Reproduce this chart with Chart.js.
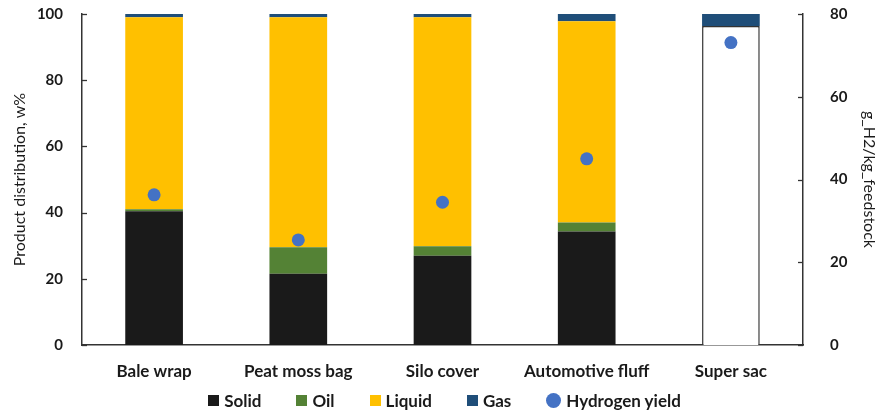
<!DOCTYPE html>
<html>
<head>
<meta charset="utf-8">
<script src="https://cdn.jsdelivr.net/npm/chart.js@4.4.1/dist/chart.umd.min.js"></script>
<style>
  html, body { margin: 0; padding: 0; background: #fff; }
  #wrap { position: relative; width: 879px; height: 412px; }
  canvas { display: block; }
  #legend {
    position: absolute; left: 5px; top: 389px; width: 879px; height: 22px;
    display: flex; justify-content: center; align-items: center; gap: 35px;
    font: bold 17px Lato, sans-serif; color: #1a1a1a;
  }
  .item { display: flex; align-items: center; gap: 5px; white-space: nowrap; }
  .sw { width: 11px; height: 11px; }
  .dot { width: 15px; height: 15px; border-radius: 50%; }
</style>
</head>
<body>
<div id="wrap">
  <canvas id="c" width="879" height="412"></canvas>
  <div id="legend"></div>
</div>
<script>
// Feedstock categories
const categories = ['Bale wrap', 'Peat moss bag', 'Silo cover', 'Automotive fluff', 'Super sac'];

// Product distribution, w%
const solid  = [40.4, 21.5, 27.0, 34.3, 96.4];
const oil    = [0.6, 8.0, 2.8, 2.7, 0];
const liquid = [58.0, 69.5, 69.2, 60.8, 0];
const gas    = [1.0, 1.0, 1.0, 2.2, 3.6];

// Hydrogen yield, g H2 per kg feedstock
const hydrogenYield = [36.3, 25.4, 34.5, 45.0, 73.1];

// Axis tick values
const leftTicks  = [0, 20, 40, 60, 80, 100];
const rightTicks = [0, 20, 40, 60, 80];

const FONT = 'Lato, sans-serif';
const AXIS = '#333333';
const COLORS = { solid: '#1a1a1a', oil: '#548235', liquid: '#ffc000', gas: '#1f4e79', h2: '#4472c4' };

// Tick marks pointing into the plot area
const innerTicks = {
  id: 'innerTicks',
  afterDraw(chart) {
    const { ctx, chartArea } = chart;
    ctx.save();
    ctx.strokeStyle = AXIS;
    ctx.lineWidth = 1.3;
    const y = chart.scales.y, y1 = chart.scales.y1;
    y.ticks.forEach(t => {
      const py = Math.round(y.getPixelForValue(t.value)) + 0.5;
      ctx.beginPath(); ctx.moveTo(chartArea.left, py); ctx.lineTo(chartArea.left + 5, py); ctx.stroke();
    });
    y1.ticks.forEach(t => {
      const py = Math.round(y1.getPixelForValue(t.value)) + 0.5;
      ctx.beginPath(); ctx.moveTo(chartArea.right - 5, py); ctx.lineTo(chartArea.right, py); ctx.stroke();
    });
    ctx.restore();
  }
};

const barDefaults = { stack: 'p', yAxisID: 'y', order: 2, barPercentage: 0.4, categoryPercentage: 1, borderWidth: 0 };

const chart = new Chart(document.getElementById('c'), {
  type: 'bar',
  data: {
    labels: categories,
    datasets: [
      Object.assign({}, barDefaults, {
        label: 'Solid', data: solid,
        backgroundColor: c => c.dataIndex === 4 ? '#ffffff' : COLORS.solid,
        borderColor: AXIS,
        borderWidth: c => c.dataIndex === 4 ? 1.5 : 0,
        borderSkipped: 'bottom'
      }),
      Object.assign({}, barDefaults, { label: 'Oil', data: oil, backgroundColor: COLORS.oil }),
      Object.assign({}, barDefaults, { label: 'Liquid', data: liquid, backgroundColor: COLORS.liquid }),
      Object.assign({}, barDefaults, { label: 'Gas', data: gas, backgroundColor: COLORS.gas }),
      {
        type: 'line', label: 'Hydrogen yield', data: hydrogenYield, yAxisID: 'y1', order: 0,
        showLine: false, pointRadius: 6.5, pointHoverRadius: 6.5, pointBorderWidth: 0,
        pointBackgroundColor: COLORS.h2, backgroundColor: COLORS.h2, borderColor: COLORS.h2
      }
    ]
  },
  options: {
    responsive: false,
    animation: false,
    devicePixelRatio: 1,
    layout: { padding: { top: 14, left: 0, right: 0, bottom: 23 } },
    plugins: { legend: { display: false }, tooltip: { enabled: false } },
    scales: {
      x: {
        grid: { display: false, drawTicks: false },
        border: { display: true, color: AXIS, width: 1.5 },
        ticks: { color: '#1a1a1a', font: { family: FONT, size: 17, weight: 'bold' }, padding: 16, maxRotation: 0, autoSkip: false },
        afterFit: s => { s.height = 44; }
      },
      y: {
        position: 'left', min: 0, max: 100,
        grid: { display: false, drawTicks: false },
        border: { display: true, color: AXIS, width: 1.5 },
        afterBuildTicks: s => { s.ticks = leftTicks.map(v => ({ value: v })); },
        ticks: { color: '#1a1a1a', font: { family: FONT, size: 15, weight: 'bold' }, padding: 19 },
        title: { display: true, text: 'Product distribution, w%', color: '#1a1a1a', font: { family: FONT, size: 16 }, padding: { top: 10, bottom: 0 } },
        afterFit: s => { s.width = 82; s.paddingTop = 0; s.paddingBottom = 0; }
      },
      y1: {
        position: 'right', min: 0, max: 80,
        grid: { display: false, drawTicks: false },
        border: { display: true, color: AXIS, width: 1.5 },
        afterBuildTicks: s => { s.ticks = rightTicks.map(v => ({ value: v })); },
        ticks: { color: '#1a1a1a', font: { family: FONT, size: 15, weight: 'bold' }, padding: 27 },
        title: { display: true, text: 'g_H2/kg_feedstock', color: '#1a1a1a', font: { family: FONT, size: 16 }, padding: { top: 0, bottom: 0 } },
        afterFit: s => { s.width = 76; s.paddingTop = 0; s.paddingBottom = 0; }
      }
    }
  },
  plugins: [innerTicks]
});

// HTML legend built from the chart's datasets
const legendEl = document.getElementById('legend');
chart.data.datasets.forEach(ds => {
  const item = document.createElement('div');
  item.className = 'item';
  const mark = document.createElement('span');
  const isPoint = ds.type === 'line';
  mark.className = isPoint ? 'dot' : 'sw';
  mark.style.background = isPoint ? ds.pointBackgroundColor : (ds.label === 'Solid' ? COLORS.solid : ds.backgroundColor);
  const txt = document.createElement('span');
  txt.textContent = ds.label;
  item.appendChild(mark);
  item.appendChild(txt);
  legendEl.appendChild(item);
});
</script>
</body>
</html>
